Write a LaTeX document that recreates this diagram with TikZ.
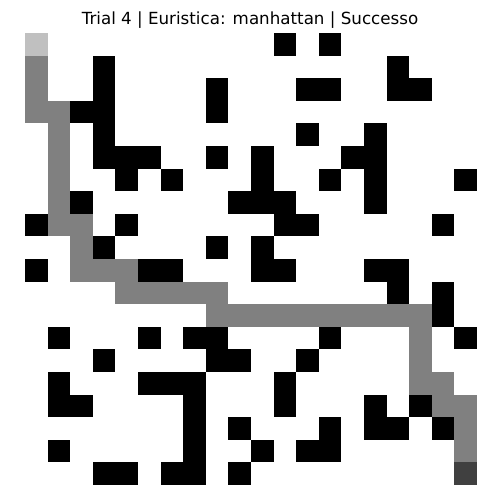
\documentclass[tikz,border=0pt]{standalone}
\usepackage{fontspec}
\newfontfamily\titlefont{DejaVu Sans}
\tikzset{
  wall/.style={fill=black},
  pathcell/.style={fill={rgb,255:red,128;green,128;blue,128}},
  startcell/.style={fill={rgb,255:red,192;green,192;blue,192}},
  goalcell/.style={fill={rgb,255:red,64;green,64;blue,64}},
}
\begin{document}
\begin{tikzpicture}[x=1pt,y=-1pt]
\useasboundingbox (0,0) rectangle (500,500);
\fill[white] (0,0) rectangle (500,500);
\def\cs{22.6}
% walls
\foreach \r/\cols in {0/{11,13},1/{3,16},2/{3,8,12,13,16,17},3/{2,3,8},4/{3,12,15},
  5/{3,4,5,8,10,14,15},6/{4,6,10,13,15,19},7/{2,9,10,11,15},8/{0,4,11,12,18},
  9/{3,8,10},10/{0,5,6,10,11,15,16},11/{16,18},12/{18},13/{1,5,7,8,13,19},
  14/{3,8,9,12},15/{1,5,6,7,11},16/{1,2,7,11,15,17},17/{7,9,13,15,16,18},
  18/{1,7,10,12,13},19/{3,4,6,7,9}}{
  \foreach \c in \cols {
    \fill[wall] ({25+\c*\cs},{33+\r*\cs}) rectangle +(22.65,22.65);
  }
}
% path
\foreach \r/\cols in {1/{0},2/{0},3/{0,1},4/{1},5/{1},6/{1},7/{1},8/{1,2},9/{2},
  10/{2,3,4},11/{4,5,6,7,8},12/{8,9,10,11,12,13,14,15,16,17},13/{17},14/{17},
  15/{17,18},16/{18,19},17/{19},18/{19}}{
  \foreach \c in \cols {
    \fill[pathcell] ({25+\c*\cs},{33+\r*\cs}) rectangle +(22.65,22.65);
  }
}
\fill[startcell] (25,33) rectangle +(22.6,22.6);
\fill[goalcell] ({25+19*\cs},{33+19*\cs}) rectangle +(22.6,22.6);
\node (title) at (250,20.5) {\titlefont\fontsize{16.7}{20}\selectfont Trial 4 | Euristica: manhattan | Successo};
\end{tikzpicture}
\end{document}
